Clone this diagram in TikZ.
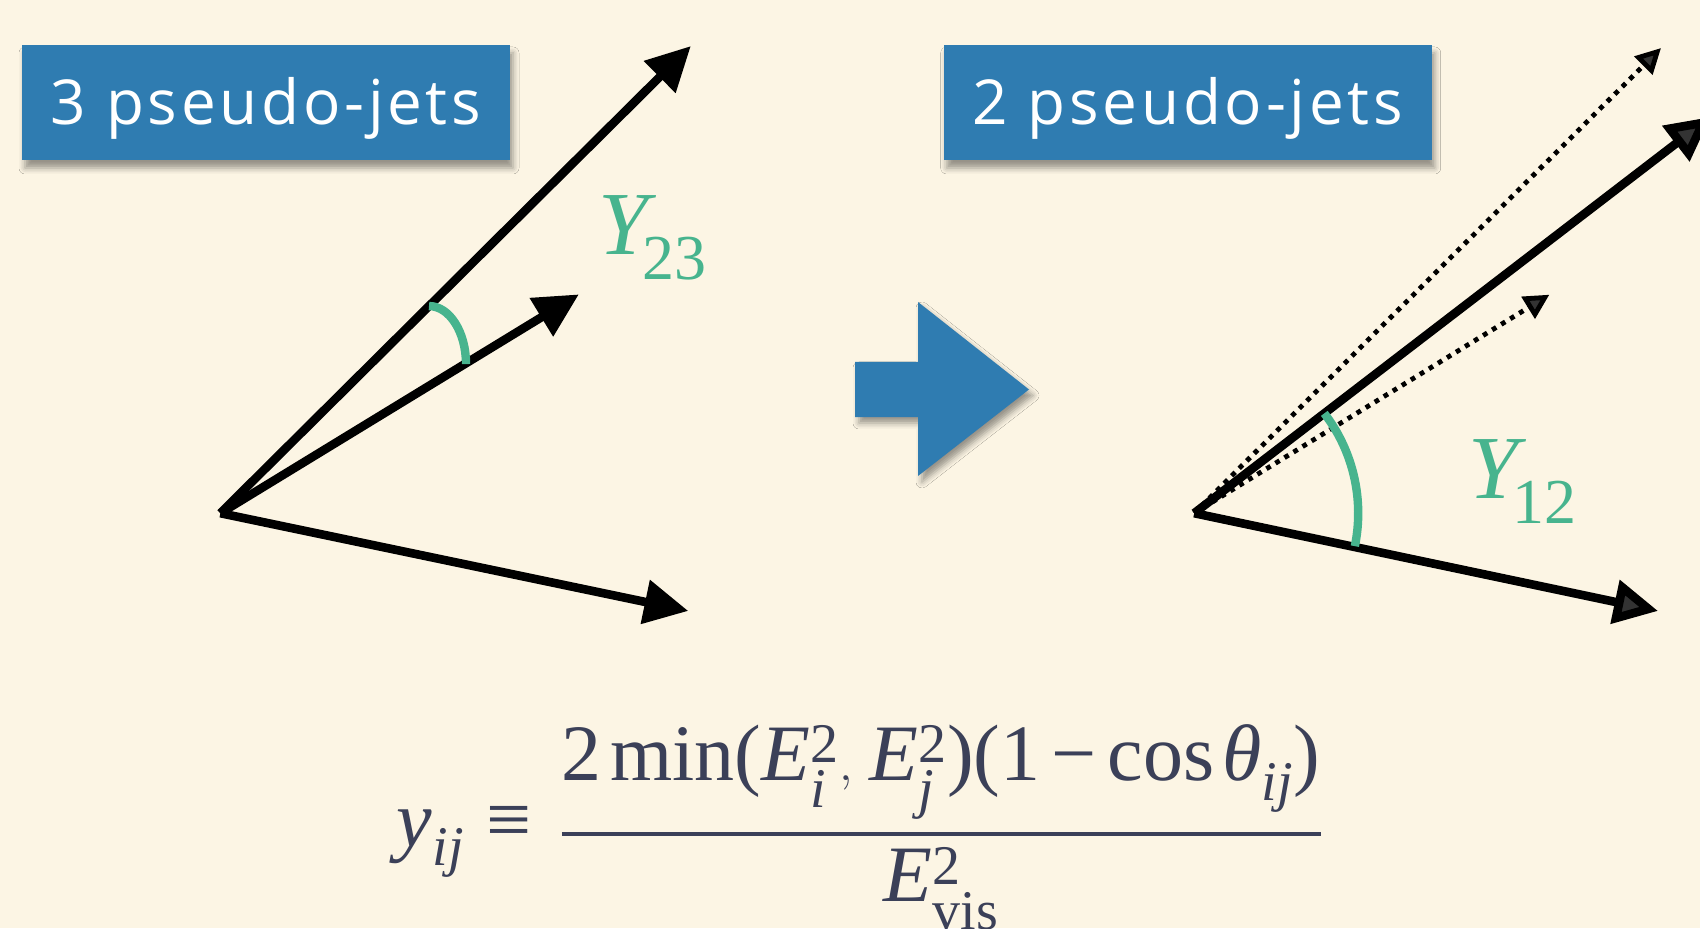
\documentclass[tikz,border=0pt]{standalone}
\usepackage{amsmath}
\usepackage{fontspec}
\setmainfont{Liberation Serif}
\newfontfamily\boxfont[LetterSpace=6]{Open Sans}
\definecolor{paper}{HTML}{FCF5E4}
\definecolor{jetblue}{HTML}{2F7CB1}
\definecolor{arcgreen}{HTML}{47B48E}
\definecolor{formula}{HTML}{3B4058}
\usetikzlibrary{arrows.meta,calc,shadows.blur}

\begin{document}
\begin{tikzpicture}[x=0.5pt,y=0.5pt,
    jetbox/.style={
      fill=jetblue,minimum width=244pt,minimum height=57.5pt,inner sep=0pt,
      text height=22.3pt,text depth=0pt,
      text=white,font=\boxfont\fontsize{31}{36}\selectfont,
      blur shadow={shadow xshift=1.5pt,shadow yshift=-4pt,shadow blur radius=3pt,shadow opacity=40}},
    jet/.style={line width=4.3pt,-{Triangle[length=22pt,width=21.5pt]}},
    oldjet/.style={line width=2.4pt,dash pattern=on 2.4pt off 2.9pt,
      -{Triangle[length=12.5pt,width=12.5pt]}},
    anglearc/.style={draw=arcgreen,line width=4.2pt},
    ylabel/.style={text=arcgreen,font=\fontsize{45}{50}\selectfont,inner sep=0pt,anchor=base west},
  ]
    \useasboundingbox (0,0) rectangle (1700,928);
    \fill[paper] (0,0) rectangle (1700,928);

    \node[jetbox] (three) at (266,825.5) {3 pseudo-jets};
    \node[jetbox] (two) at (1187.7,825.5) {2 pseudo-jets};

    % before the merge
    \coordinate (o3) at (220.4,414.8);
    \coordinate (j1) at ($(o3)+(44.8:663)$);
    \coordinate (j2) at ($(o3)+(31.4:420)$);
    \coordinate (j3) at ($(o3)+(-11.8:478)$);
    \draw[jet] (o3) -- (j1);
    \draw[jet] (o3) -- (j2);
    \draw[jet] (o3) -- (j3);
    \draw[anglearc] ($(o3)+(44.8:294)$) arc[start angle=90,end angle=0,x radius=37,y radius=58];
    \node[ylabel] (y23) at (598,673) {\itshape Y\kern-3pt\raisebox{-12.5pt}{\upshape\fontsize{32}{32}\selectfont 23}};

    \fill[jetblue,blur shadow={shadow xshift=2pt,shadow yshift=-3pt,shadow blur radius=3pt,shadow opacity=40}]
      (855,566) -- (918,566) -- (918,626) -- (1029,538.5) -- (918,452) -- (918,511) -- (855,511) -- cycle;

    % after the merge
    \coordinate (o2) at (1194.2,414.8);
    \coordinate (d1) at ($(o2)+(44.9:659)$);
    \coordinate (d2) at ($(o2)+(31.6:417)$);
    \coordinate (m12) at ($(o2)+(37.5:651)$);
    \coordinate (k3) at ($(o2)+(-11.9:474)$);
    \draw[oldjet] (o2) -- (d1);
    \draw[oldjet] (o2) -- (d2);
    \draw[jet] (o2) -- (m12);
    \draw[jet] (o2) -- (k3);
    \draw[anglearc] ($(o2)+(37.5:164)$) arc[start angle=37.5,end angle=-11.6,radius=164];
    \node[ylabel] (y12) at (1468,430) {\itshape Y\kern-3pt\raisebox{-12.5pt}{\upshape\fontsize{32}{32}\selectfont 12}};

    \node[text=formula,font=\fontsize{40}{44}\selectfont,inner sep=0pt,anchor=base] (yij) at (860,82)
      {$\mathit{y}_{\mathit{ij}}\,\mathrel{\text{≡}}\;\genfrac{}{}{2pt}{0}{\mathrm{2\,min}\text{(}\mathit{E}_{\mathit{i}}^{\mathrm{2}},\,\mathit{E}_{\mathit{j}}^{\mathrm{2}}\text{)(}\mathrm{1}\mathbin{\text{−}}\mathrm{cos}\,\mathit{θ}_{\mathit{ij}}\text{)}}{\mathit{E}_{\mathrm{vis}}^{\mathrm{2}}}$};
  \end{tikzpicture}
\end{document}
